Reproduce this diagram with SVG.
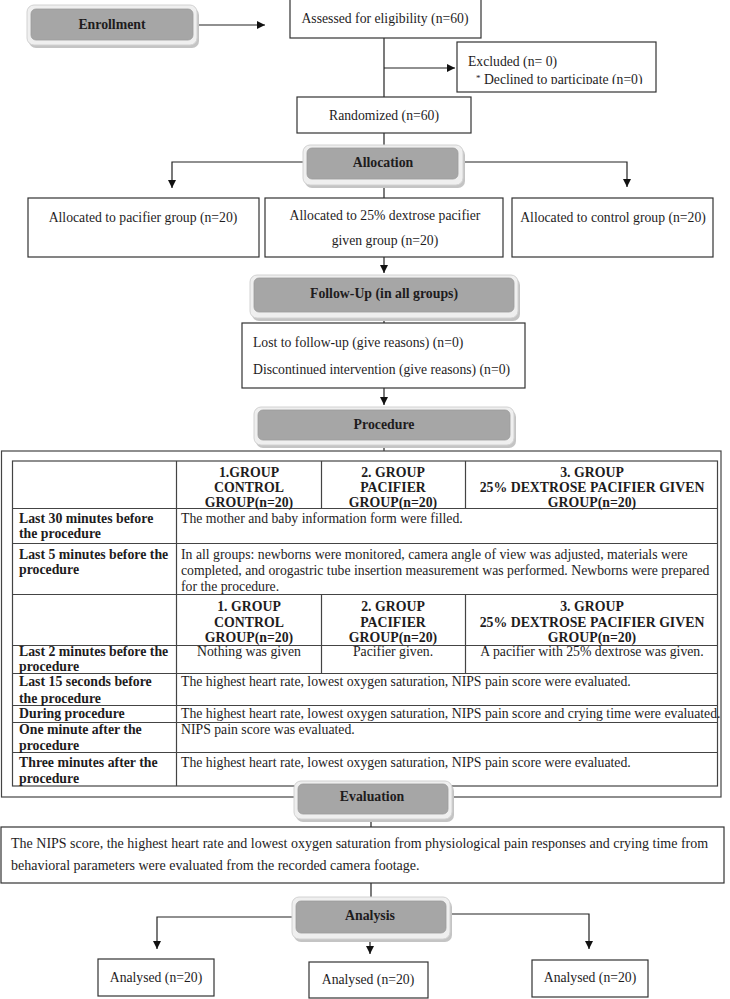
<svg xmlns="http://www.w3.org/2000/svg" width="730" height="999" viewBox="0 0 730 999">
<defs>
<style>
text{font-family:"Liberation Serif","Times New Roman",serif;fill:#1e1c1d;font-size:14px}
.s{font-size:13.7px}
.t{font-size:13.75px}
.b{font-weight:bold;font-size:13.8px}
.c{text-anchor:middle}
.box{fill:#fff;stroke:#333;stroke-width:1.2}
.ln{fill:none;stroke:#222;stroke-width:1.2}
.tb{fill:none;stroke:#444;stroke-width:1.2}
.sh{fill:#c4c4c4}
.out{fill:#efefef;stroke:#d2d2d2;stroke-width:1}
.in{fill:#a6a6a6;stroke:#9c9c9c;stroke-width:0.8}
</style>
<marker id="ah" viewBox="0 0 10 10" refX="10" refY="5" markerWidth="8" markerHeight="8" markerUnits="userSpaceOnUse" orient="auto">
<path d="M0,0 L10,5 L0,10 z" fill="#111"/>
</marker>
<clipPath id="exclip"><rect x="457" y="42" width="199" height="42"/></clipPath>
</defs>
<rect width="730" height="999" fill="#fff"/>

<g id="connectors">
<line class="ln" x1="195" y1="25" x2="265" y2="25" marker-end="url(#ah)"/>
<line class="ln" x1="384" y1="38" x2="384" y2="97"/>
<line class="ln" x1="384" y1="68" x2="455" y2="68" marker-end="url(#ah)"/>
<line class="ln" x1="384" y1="133" x2="384" y2="146"/>
<polyline class="ln" points="304,162 172,162 172,188" marker-end="url(#ah)"/>
<polyline class="ln" points="462,162 627,162 627,187" marker-end="url(#ah)"/>
<line class="ln" x1="384" y1="185" x2="384" y2="198"/>
<line class="ln" x1="384" y1="257" x2="384" y2="273" marker-end="url(#ah)"/>
<line class="ln" x1="384" y1="318" x2="384" y2="323"/>
<line class="ln" x1="384" y1="388" x2="384" y2="405" marker-end="url(#ah)"/>
<line class="ln" x1="384" y1="445" x2="384" y2="451"/>
<line class="ln" x1="371" y1="819" x2="371" y2="827"/>
<line class="ln" x1="371" y1="883" x2="371" y2="897"/>
<polyline class="ln" points="292,917 157,917 157,949" marker-end="url(#ah)"/>
<polyline class="ln" points="450,914 589,914 589,949" marker-end="url(#ah)"/>
<line class="ln" x1="370" y1="940" x2="370" y2="954" marker-end="url(#ah)"/>
</g>

<g id="enrollment">
<rect class="sh" x="29" y="8" width="170" height="40" rx="7"/>
<rect class="out" x="27" y="5" width="170" height="40" rx="7"/>
<rect class="in" x="31" y="9" width="162" height="31" rx="5"/>
<text class="b c" x="112" y="29">Enrollment</text>
</g>

<g id="assessed">
<rect class="box" x="290" y="-1" width="191" height="39"/>
<text class="s c" x="385" y="23">Assessed for eligibility (n=60)</text>
</g>

<g id="excluded">
<rect class="box" x="457" y="42" width="199" height="50"/>
<text class="s" x="468" y="66">Excluded (n= 0)</text>
<g clip-path="url(#exclip)">
<text class="s" x="476" y="84"><tspan font-size="9" dy="-3">*</tspan><tspan dy="3"> Declined to participate (n=0)</tspan></text>
</g>
</g>

<g id="randomized">
<rect class="box" x="297" y="97" width="174" height="36"/>
<text class="s c" x="384" y="120">Randomized (n=60)</text>
</g>

<g id="allocation">
<rect class="sh" x="305" y="148" width="160" height="40" rx="7"/>
<rect class="out" x="303" y="145" width="160" height="40" rx="7"/>
<rect class="in" x="307" y="148" width="151" height="31" rx="5"/>
<text class="b c" x="383" y="167">Allocation</text>
</g>

<g id="alloc-pacifier">
<rect class="box" x="28" y="198" width="231" height="59"/>
<text class="s c" x="143" y="222">Allocated to pacifier group (n=20)</text>
</g>

<g id="alloc-dextrose">
<rect class="box" x="265" y="198" width="238" height="59"/>
<text class="s c" x="385" y="220">Allocated to 25% dextrose pacifier</text>
<text class="s c" x="385" y="245">given group (n=20)</text>
</g>

<g id="alloc-control">
<rect class="box" x="512" y="198" width="201" height="59"/>
<text class="s c" x="613" y="222">Allocated to control group (n=20)</text>
</g>

<g id="followup">
<rect class="sh" x="252" y="278" width="268" height="43" rx="7"/>
<rect class="out" x="250" y="275" width="268" height="43" rx="7"/>
<rect class="in" x="254" y="278" width="260" height="34" rx="5"/>
<text class="b c" x="384" y="298">Follow-Up (in all groups)</text>
</g>

<g id="lost">
<rect class="box" x="242" y="323" width="283" height="65"/>
<text class="s" x="253" y="347">Lost to follow-up (give reasons) (n=0)</text>
<text class="s" x="253" y="374">Discontinued intervention (give reasons) (n=0)</text>
</g>

<g id="procedure">
<rect class="sh" x="256" y="410" width="260" height="38" rx="7"/>
<rect class="out" x="254" y="407" width="260" height="38" rx="7"/>
<rect class="in" x="258" y="410" width="252" height="30" rx="5"/>
<text class="b c" x="384" y="429">Procedure</text>
</g>

<g id="procedure-table">
<rect class="tb" x="1.5" y="451" width="719.5" height="346"/>
<rect class="tb" x="12.5" y="461" width="705" height="325"/>
<line class="tb" x1="12" y1="508.5" x2="718" y2="508.5"/>
<line class="tb" x1="12" y1="543.5" x2="718" y2="543.5"/>
<line class="tb" x1="12" y1="594.5" x2="718" y2="594.5"/>
<line class="tb" x1="12" y1="645.5" x2="718" y2="645.5"/>
<line class="tb" x1="12" y1="673.5" x2="718" y2="673.5"/>
<line class="tb" x1="12" y1="705.5" x2="718" y2="705.5"/>
<line class="tb" x1="12" y1="722.5" x2="718" y2="722.5"/>
<line class="tb" x1="12" y1="752.5" x2="718" y2="752.5"/>
<line class="tb" x1="176.5" y1="461" x2="176.5" y2="786"/>
<line class="tb" x1="321.5" y1="461" x2="321.5" y2="508"/>
<line class="tb" x1="465.5" y1="461" x2="465.5" y2="508"/>
<line class="tb" x1="321.5" y1="594" x2="321.5" y2="673"/>
<line class="tb" x1="465.5" y1="594" x2="465.5" y2="673"/>

<text class="b c" x="249" y="477">1.GROUP</text>
<text class="b c" x="249" y="492">CONTROL</text>
<text class="b c" x="249" y="507">GROUP(n=20)</text>
<text class="b c" x="393" y="477">2. GROUP</text>
<text class="b c" x="393" y="492">PACIFIER</text>
<text class="b c" x="393" y="507">GROUP(n=20)</text>
<text class="b c" x="592" y="477">3. GROUP</text>
<text class="b c" x="592" y="492">25% DEXTROSE PACIFIER GIVEN</text>
<text class="b c" x="592" y="507">GROUP(n=20)</text>

<text class="b" x="19" y="523">Last 30 minutes before</text>
<text class="b" x="19" y="538">the procedure</text>
<text class="t" x="181" y="523">The mother and baby information form were filled.</text>

<text class="b" x="19" y="559">Last 5 minutes before the</text>
<text class="b" x="19" y="574">procedure</text>
<text class="t" x="181" y="559">In all groups: newborns were monitored, camera angle of view was adjusted, materials were</text>
<text class="t" x="181" y="575">completed, and orogastric tube insertion measurement was performed. Newborns were prepared</text>
<text class="t" x="181" y="591">for the procedure.</text>

<text class="b c" x="249" y="611">1. GROUP</text>
<text class="b c" x="249" y="627">CONTROL</text>
<text class="b c" x="249" y="642">GROUP(n=20)</text>
<text class="b c" x="393" y="611">2. GROUP</text>
<text class="b c" x="393" y="627">PACIFIER</text>
<text class="b c" x="393" y="642">GROUP(n=20)</text>
<text class="b c" x="592" y="611">3. GROUP</text>
<text class="b c" x="592" y="627">25% DEXTROSE PACIFIER GIVEN</text>
<text class="b c" x="592" y="642">GROUP(n=20)</text>

<text class="b" x="19" y="656">Last 2 minutes before the</text>
<text class="b" x="19" y="671">procedure</text>
<text class="t c" x="249" y="656">Nothing was given</text>
<text class="t c" x="393" y="656">Pacifier given.</text>
<text class="t c" x="592" y="656">A pacifier with 25% dextrose was given.</text>

<text class="b" x="19" y="686">Last 15 seconds before</text>
<text class="b" x="19" y="703">the procedure</text>
<text class="t" x="181" y="686">The highest heart rate, lowest oxygen saturation, NIPS pain score were evaluated.</text>

<text class="b" x="19" y="718">During procedure</text>
<text class="t" x="181" y="718">The highest heart rate, lowest oxygen saturation, NIPS pain score and crying time were evaluated.</text>

<text class="b" x="19" y="734">One minute after the</text>
<text class="b" x="19" y="750">procedure</text>
<text class="t" x="181" y="734">NIPS pain score was evaluated.</text>

<text class="b" x="19" y="767">Three minutes after the</text>
<text class="b" x="19" y="783">procedure</text>
<text class="t" x="181" y="767">The highest heart rate, lowest oxygen saturation, NIPS pain score were evaluated.</text>
</g>

<g id="evaluation">
<rect class="sh" x="296" y="784" width="158" height="38" rx="7"/>
<rect class="out" x="294" y="781" width="158" height="38" rx="7"/>
<rect class="in" x="298" y="784" width="150" height="30" rx="5"/>
<text class="b c" x="372" y="801">Evaluation</text>
</g>

<g id="evaluation-text">
<rect class="box" x="1" y="827" width="723" height="56"/>
<text x="11" y="848">The NIPS score, the highest heart rate and lowest oxygen saturation from physiological pain responses and crying time from</text>
<text x="11" y="870">behavioral parameters were evaluated from the recorded camera footage.</text>
</g>

<g id="analysis">
<rect class="sh" x="294" y="900" width="158" height="42" rx="7"/>
<rect class="out" x="292" y="897" width="158" height="42" rx="7"/>
<rect class="in" x="296" y="901" width="150" height="32" rx="5"/>
<text class="b c" x="370" y="920">Analysis</text>
</g>

<g id="analysed-1">
<rect class="box" x="98" y="959" width="116" height="37"/>
<text class="s c" x="156" y="982">Analysed (n=20)</text>
</g>
<g id="analysed-2">
<rect class="box" x="309" y="962" width="119" height="36"/>
<text class="s c" x="368" y="984">Analysed (n=20)</text>
</g>
<g id="analysed-3">
<rect class="box" x="532" y="960" width="116" height="37"/>
<text class="s c" x="590" y="982">Analysed (n=20)</text>
</g>
</svg>
